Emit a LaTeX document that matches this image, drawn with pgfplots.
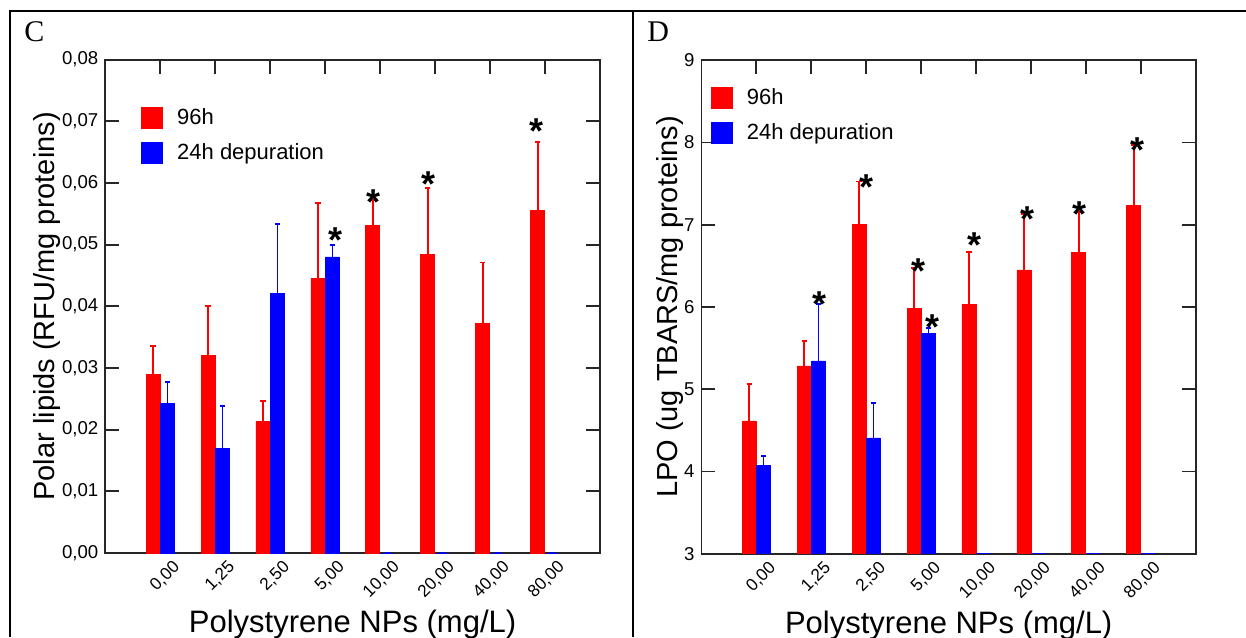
\documentclass[border=0pt]{standalone}
\usepackage{fontspec}
\setmainfont{Liberation Sans}
\newfontfamily\panelfont{Liberation Serif}
\usepackage{pgfplots}
\usepackage{pgfplotstable}
\pgfplotsset{compat=1.18}

\definecolor{barred}{RGB}{255,0,0}
\definecolor{barblue}{RGB}{0,0,255}

% significance asterisk, drawn as a plot mark
\pgfdeclareplotmark{ast}{\pgftext[base,at=\pgfpoint{0pt}{-10.3pt}]{\fontsize{18}{18}\selectfont\bfseries *}}

% x  mean96h  err96h  meandep  errdep
\pgfplotstableread{
x  r       re      b       be
1  0.0289  0.0047  0.0242  0.0035
2  0.0321  0.0080  0.0170  0.0068
3  0.0214  0.0033  0.0421  0.0112
4  0.0445  0.0123  0.0480  0.0019
5  0.0531  0.0042  0.0000  0.0000
6  0.0484  0.0108  0.0000  0.0000
7  0.0372  0.0099  0.0000  0.0000
8  0.0556  0.0110  0.0000  0.0000
}\lipids

\pgfplotstableread{
x  r      re     b      be
1  4.614  0.446  4.075  0.110
2  5.283  0.301  5.344  0.697
3  6.999  0.527  4.408  0.422
4  5.980  0.492  5.681  0.068
5  6.034  0.633  3.000  0.000
6  6.451  0.678  3.000  0.000
7  6.667  0.486  3.000  0.000
8  7.234  0.738  3.000  0.000
}\lpo

\pgfplotstableread{
x      y
4.190  0.0520
4.888  0.0582
5.890  0.0612
7.848  0.0697
}\lipidstars

\pgfplotstableread{
x      y
2.145  6.139
3.008  7.555
3.946  6.533
4.208  5.855
4.973  6.849
5.930  7.173
6.889  7.230
7.931  8.012
}\lpostars

\pgfplotsset{
  panel/.style={
    scale only axis,
    width=247.3pt, height=246.7pt,
    xmin=0, xmax=9,
    xtick={1,...,8},
    xticklabels={{0,00},{1,25},{2,50},{5,00},{10,00},{20,00},{40,00},{80,00}},
    xtick pos=right, xticklabel pos=left,
    ytick pos=both, yticklabel pos=left,
    tick align=inside,
    major tick length=7pt,
    scaled y ticks=false,
    axis line style={line width=0.9pt, black!85},
    every tick/.style={line width=0.9pt, black!85},
    /pgf/number format/assume math mode=true,
    xticklabel style={font=\fontsize{8.6}{9}\selectfont, rotate=45, anchor=east, xshift=5.3pt, yshift=-10pt},
    yticklabel style={font=\fontsize{9.3}{10}\selectfont},
    xlabel={Polystyrene NPs (mg/L)},
    xlabel style={font=\fontsize{15.5}{17}\selectfont, at={(axis description cs:0.5,-0.1615)}, anchor=base},
    ylabel style={font=\fontsize{14.5}{16}\selectfont, anchor=center},
    legend cell align=left,
    legend style={draw=none, fill=none, inner sep=0pt, anchor=north west,
      font=\fontsize{11}{12}\selectfont, nodes={inner sep=0pt}, column sep=7pt, row sep=6.8pt},
    legend image code/.code={\fill[##1] (0pt,-5.25pt) rectangle (10.5pt,5.25pt);},
  },
  % bars sit 0.131 x-units left/right of the category so the error bars follow them
  redbars/.style={ybar, bar width=7pt, bar shift=0pt, fill=barred, draw=barred, line width=0.4pt,
    error bars/.cd, y dir=plus, y explicit,
    error bar style={barred, line width=0.8pt},
    error mark options={rotate=90, mark size=1.3pt, barred, line width=0.9pt}},
  bluebars/.style={ybar, bar width=7pt, bar shift=0pt, fill=barblue, draw=barblue, line width=0.4pt,
    error bars/.cd, y dir=plus, y explicit,
    error bar style={barblue, line width=0.8pt},
    error mark options={rotate=90, mark size=1.3pt, barblue, line width=0.9pt}},
}

\begin{document}
\begin{tikzpicture}
\useasboundingbox (0,0) rectangle (623pt,318.5pt);

% table frame
\draw[line width=1.2pt] (5pt,0) -- (5pt,313pt) -- (623pt,313pt);
\draw[line width=1.2pt] (316.5pt,0) -- (316.5pt,313pt);
\node[anchor=base west, inner sep=0pt, font=\panelfont\fontsize{15}{16}\selectfont] at (12pt,297.6pt) {C};
\node[anchor=base west, inner sep=0pt, font=\panelfont\fontsize{15}{16}\selectfont] at (323.5pt,297.6pt) {D};

\begin{axis}[panel,
  at={(52.65pt,42pt)}, anchor=south west,
  ymin=0, ymax=0.08,
  ytick={0,0.01,0.02,0.03,0.04,0.05,0.06,0.07,0.08},
  /pgf/number format/fixed,
  /pgf/number format/fixed zerofill,
  /pgf/number format/precision=2,
  /pgf/number format/use comma,
  ylabel={Polar lipids (RFU/mg proteins)},
  ylabel style={at={(axis description cs:-0.118,0.5)}},
  legend style={at={(axis description cs:0.0722,0.9053)}},
]
\addplot[redbars] table[x expr=\thisrow{x}-0.131, y=r, y error=re] {\lipids};
\addlegendentry{96h}
\addplot[bluebars] table[x expr=\thisrow{x}+0.131, y=b, y error=be] {\lipids};
\addlegendentry{24h depuration}
\addplot[only marks, mark=ast, black, forget plot] table[x=x, y=y] {\lipidstars};
\end{axis}

\begin{axis}[panel,
  at={(350.7pt,41.65pt)}, anchor=south west,
  ymin=3, ymax=9,
  ytick={3,4,5,6,7,8,9},
  ylabel={LPO (ug TBARS/mg proteins)},
  ylabel style={at={(axis description cs:-0.0635,0.5)}},
  legend style={at={(axis description cs:0.0186,0.9473)}},
]
\addplot[redbars] table[x expr=\thisrow{x}-0.131, y=r, y error=re] {\lpo};
\addlegendentry{96h}
\addplot[bluebars] table[x expr=\thisrow{x}+0.131, y=b, y error=be] {\lpo};
\addlegendentry{24h depuration}
\addplot[only marks, mark=ast, black, forget plot] table[x=x, y=y] {\lpostars};
\end{axis}
\end{tikzpicture}
\end{document}
